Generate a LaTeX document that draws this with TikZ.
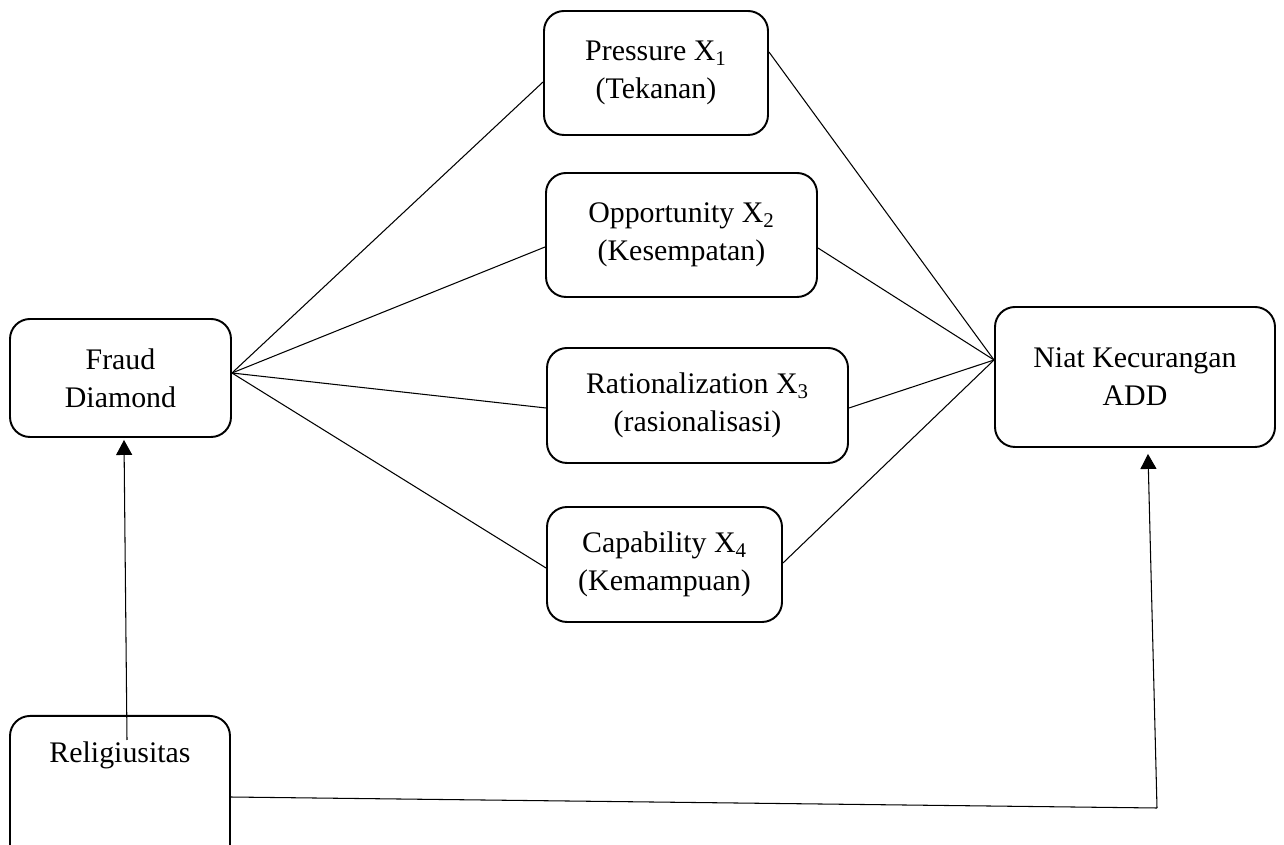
\documentclass[tikz,border=0pt]{standalone}
\usepackage{fontspec}
\setmainfont{Liberation Serif}
\usetikzlibrary{positioning,arrows.meta,calc}
\tikzset{
  varbox/.style={draw, rounded corners=0.4cm, line width=1.1pt, fill=white, align=center, inner sep=2pt},
  linkline/.style={line width=0.6pt},
  flowarrow/.style={-{Triangle[length=0.3cm, width=0.32cm]}, line width=0.6pt}
}

\begin{document}
\begin{tikzpicture}[every node/.style={font=\fontsize{17}{21.6}\selectfont}]
  \useasboundingbox (0,0) rectangle (25.68,-16.9);
  \clip (0,0) rectangle (25.68,-16.9);
  \node[varbox, minimum width=4.42cm, minimum height=2.36cm] (fraud) at (2.41,-7.56) {Fraud\\Diamond};
  \node[varbox, minimum width=4.48cm, minimum height=2.48cm] (press) at (13.12,-1.46) {Pressure X\textsubscript{1}\\(Tekanan)};
  \node[varbox, minimum width=5.42cm, minimum height=2.48cm] (oppo) at (13.63,-4.70) {Opportunity X\textsubscript{2}\\(Kesempatan)};
  \node[varbox, minimum width=6.02cm, minimum height=2.30cm] (ratio) at (13.95,-8.11) {Rationalization X\textsubscript{3}\\(rasionalisasi)};
  \node[varbox, minimum width=4.70cm, minimum height=2.30cm] (capab) at (13.29,-11.29) {Capability X\textsubscript{4}\\(Kemampuan)};
  \node[varbox, minimum width=5.60cm, minimum height=2.80cm] (niat) at (22.70,-7.54) {Niat Kecurangan\\ADD};
  \node[varbox, minimum width=4.40cm, anchor=north, text height=0.86cm, text depth=2.4cm] (relig) at (2.40,-14.30) {Religiusitas};
  \coordinate (relstart) at (2.54,-14.80);
  \coordinate (relout) at (4.60,-15.94);
  \coordinate (corner) at (23.14,-16.16);
  \draw[linkline] ([yshift=0.1cm]fraud.east) -- ([yshift=-0.18cm]press.west);
  \draw[linkline] ([yshift=0.1cm]fraud.east) -- ([yshift=-0.24cm]oppo.west);
  \draw[linkline] ([yshift=0.1cm]fraud.east) -- ([yshift=-0.05cm]ratio.west);
  \draw[linkline] ([yshift=0.1cm]fraud.east) -- ([yshift=-0.07cm]capab.west);
  \draw[linkline] ([yshift=0.42cm]press.east) -- ([yshift=0.34cm]niat.west);
  \draw[linkline] ([yshift=-0.26cm]oppo.east) -- ([yshift=0.34cm]niat.west);
  \draw[linkline] ([yshift=-0.05cm]ratio.east) -- ([yshift=0.34cm]niat.west);
  \draw[linkline] ([yshift=0.03cm]capab.east) -- ([yshift=0.34cm]niat.west);
  \draw[flowarrow] (relstart) -- ([xshift=0.07cm, yshift=-0.04cm]fraud.south);
  \draw[linkline] (relout) -- (corner);
  \draw[flowarrow] (corner) -- ([xshift=0.26cm, yshift=-0.12cm]niat.south);
\end{tikzpicture}
\end{document}
